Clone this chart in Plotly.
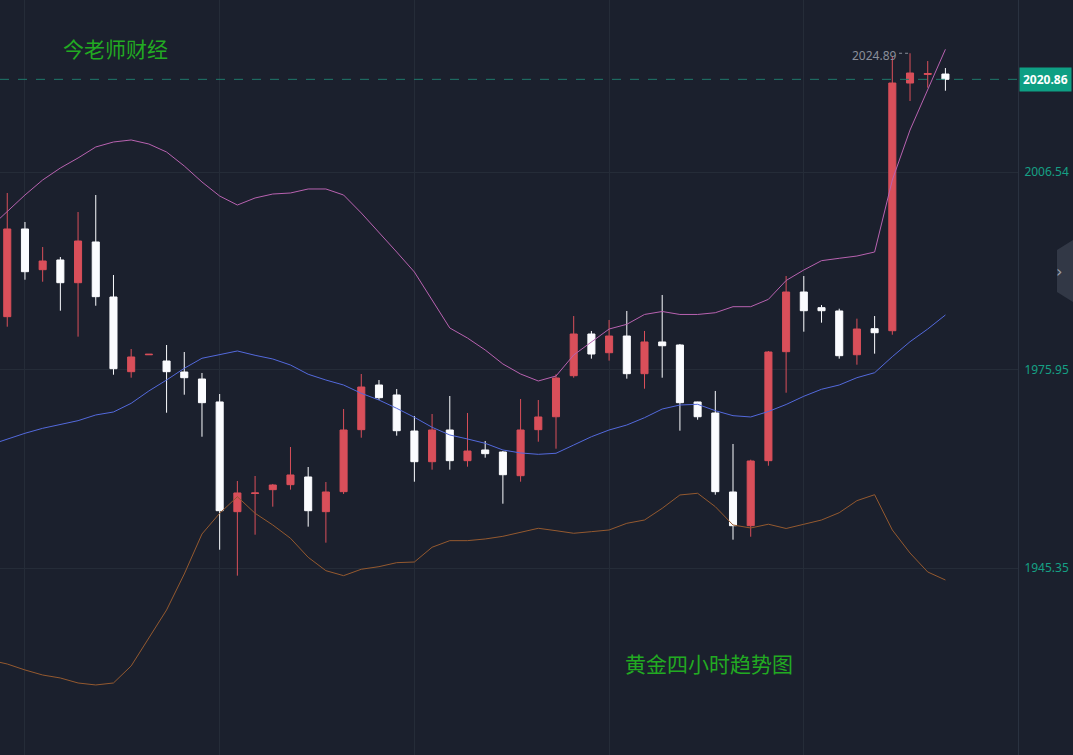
import plotly.graph_objects as go

# ---- data ----
idx = list(range(54))
opens = [1984.19, 1997.74, 1991.45, 1992.95, 1989.44, 1995.73, 1987.23, 1975.69, 1978.30, 1977.34,
         1975.64, 1974.56, 1971.01, 1954.06, 1956.87, 1957.46, 1958.23, 1959.42, 1954.06, 1957.15,
         1966.73, 1973.63, 1972.09, 1966.52, 1961.78, 1966.68, 1961.94, 1963.59, 1963.28, 1959.62,
         1966.73, 1968.73, 1975.07, 1981.51, 1978.62, 1981.20, 1975.38, 1980.28, 1979.81, 1971.01,
         1969.31, 1957.10, 1951.89, 1961.94, 1978.78, 1988.00, 1985.58, 1985.07, 1978.31, 1982.33,
         1982.02, 2020.29, 2021.62, 2021.68]
highs = [2003.30, 1998.82, 1994.95, 1993.41, 2000.36, 2002.99, 1990.63, 1979.19, 1978.40, 1979.81,
         1978.73, 1975.49, 1972.24, 1958.80, 1959.57, 1958.34, 1964.05, 1960.96, 1958.64, 1969.92,
         1975.33, 1974.40, 1973.01, 1968.84, 1969.15, 1971.93, 1969.31, 1964.98, 1963.43, 1971.47,
         1971.31, 1975.29, 1984.29, 1981.98, 1983.68, 1985.07, 1981.98, 1987.54, 1979.97, 1971.05,
         1972.71, 1964.52, 1962.09, 1978.89, 1990.47, 1990.47, 1985.99, 1985.42, 1983.88, 1984.29,
         2024.39, 2024.89, 2023.69, 2022.61]
lows = [1982.64, 1989.90, 1989.59, 1985.11, 1981.10, 1985.88, 1975.22, 1974.76, 1978.28, 1969.35,
        1972.13, 1965.64, 1948.18, 1944.17, 1950.50, 1954.83, 1957.46, 1951.74, 1949.27, 1956.79,
        1965.49, 1971.31, 1965.80, 1958.69, 1960.55, 1960.55, 1961.01, 1962.40, 1955.29, 1958.69,
        1964.87, 1963.79, 1974.76, 1977.70, 1977.39, 1974.61, 1973.06, 1974.76, 1966.57, 1968.27,
        1956.68, 1949.73, 1950.19, 1961.16, 1972.44, 1981.87, 1983.26, 1977.70, 1976.77, 1978.47,
        1981.40, 2017.51, 2019.57, 2019.10]
closes = [1997.74, 1991.14, 1992.79, 1989.44, 1995.88, 1987.28, 1976.15, 1977.96, 1978.38, 1975.69,
          1974.76, 1970.90, 1954.21, 1956.95, 1956.95, 1958.18, 1959.73, 1954.21, 1957.10, 1966.68,
          1973.32, 1971.67, 1966.57, 1961.78, 1966.68, 1961.94, 1963.43, 1963.02, 1959.77, 1966.68,
          1968.69, 1974.71, 1981.51, 1978.42, 1981.20, 1975.38, 1980.28, 1979.70, 1970.90, 1968.73,
          1957.15, 1951.89, 1961.89, 1978.73, 1988.00, 1985.11, 1985.11, 1978.16, 1982.28, 1981.71,
          2020.29, 2021.84, 2021.76, 2020.86]

# Bollinger bands (one extra point before the first visible candle, off the left edge)
band_idx = list(range(-1, 54))
boll_upper = [1997.89,
              2000.52, 2002.99, 2005.31, 2007.16, 2008.71, 2010.41, 2011.18, 2011.49, 2010.87, 2009.63,
              2007.47, 2005.00, 2002.83, 2001.44, 2002.53, 2003.14, 2003.30, 2003.92, 2003.92, 2002.99,
              2000.21, 1997.27, 1994.18, 1991.09, 1986.77, 1982.44, 1980.89, 1979.04, 1976.88, 1975.33,
              1974.25, 1975.02, 1978.27, 1980.32, 1982.28, 1983.01, 1984.53, 1984.99, 1984.53, 1984.53,
              1984.80, 1985.73, 1985.73, 1986.87, 1989.78, 1991.40, 1992.84, 1993.21, 1993.56, 1994.18,
              2005.31, 2013.03, 2019.21, 2025.50]
boll_mid = [1964.36,
            1965.29, 1966.17, 1966.94, 1967.56, 1968.12, 1969.00, 1969.46, 1970.80, 1972.71, 1974.40,
            1976.21, 1977.76, 1978.27, 1978.89, 1978.22, 1977.65, 1976.72, 1975.29, 1974.40, 1973.63,
            1972.35, 1971.31, 1970.03, 1968.64, 1967.10, 1965.91, 1965.29, 1964.62, 1963.59, 1963.13,
            1962.92, 1963.08, 1964.36, 1965.64, 1966.68, 1967.45, 1968.58, 1969.92, 1970.54, 1970.65,
            1969.66, 1968.89, 1968.69, 1969.54, 1970.62, 1971.89, 1972.97, 1973.63, 1974.76, 1975.53,
            1978.01, 1980.32, 1982.28, 1984.45]
boll_lower = [1931.14,
              1930.52, 1929.60, 1928.82, 1928.36, 1927.59, 1927.28, 1927.59, 1930.22, 1934.54, 1938.87,
              1944.43, 1950.61, 1953.81, 1956.37, 1953.81, 1952.00, 1949.95, 1947.01, 1944.94, 1944.17,
              1945.16, 1945.56, 1946.18, 1946.28, 1948.56, 1949.58, 1949.58, 1949.84, 1950.25, 1950.92,
              1951.49, 1951.12, 1950.72, 1950.97, 1951.23, 1952.26, 1952.77, 1954.58, 1956.64, 1956.90,
              1954.83, 1952.00, 1951.54, 1952.12, 1951.46, 1952.11, 1952.77, 1953.90, 1955.76, 1956.68,
              1951.23, 1947.67, 1944.74, 1943.50]

tick_vals = [1945.35, 1975.95, 2006.54]
tick_text = ["1945.35", "1975.95", "2006.54"]
last_price = 2020.86
high_price = 2024.89
high_index = 51

BG = "#1b202d"
GRID = "#252c38"
RED = "#d94f5a"
WHITE = "#fbfcff"
TEAL = "#16a085"

fig = go.Figure()

fig.add_trace(go.Scatter(x=band_idx, y=boll_upper, mode="lines",
                         line=dict(color="#b862b0", width=1), hoverinfo="skip"))
fig.add_trace(go.Scatter(x=band_idx, y=boll_mid, mode="lines",
                         line=dict(color="#5369dc", width=1), hoverinfo="skip"))
fig.add_trace(go.Scatter(x=band_idx, y=boll_lower, mode="lines",
                         line=dict(color="#94592f", width=1), hoverinfo="skip"))

fig.add_trace(go.Candlestick(
    x=idx, open=opens, high=highs, low=lows, close=closes,
    increasing=dict(line=dict(color=RED, width=1), fillcolor=RED),
    decreasing=dict(line=dict(color=WHITE, width=1), fillcolor=WHITE),
    whiskerwidth=0, hoverinfo="skip"))

fig.update_layout(
    width=1073, height=755,
    margin=dict(l=0, r=55, t=0, b=0),
    paper_bgcolor=BG, plot_bgcolor=BG,
    showlegend=False,
    boxgap=0.43,
    xaxis=dict(range=[-0.41, 57.1], showticklabels=False, tickvals=[1, 12, 23, 34, 45],
               showgrid=True, gridcolor=GRID, gridwidth=1, zeroline=False,
               rangeslider=dict(visible=False), fixedrange=True),
    yaxis=dict(range=[1916.46, 2033.12], side="right", tickvals=tick_vals, ticktext=tick_text,
               showgrid=True, gridcolor=GRID, gridwidth=1, zeroline=False,
               tickfont=dict(color=TEAL, size=12, family="Noto Sans"),
               ticks="", ticklabelstandoff=3,
               showline=True, linecolor="#2a3240", linewidth=1, fixedrange=True),
)

# last price dashed line
fig.add_shape(type="line", xref="paper", x0=0, x1=1, yref="y", y0=last_price, y1=last_price,
              line=dict(color="#1f7a6c", width=1, dash="dash"))
# last price label
fig.add_annotation(xref="paper", x=1.0, xanchor="left", yref="y", y=last_price, yanchor="middle",
                   text="<b>%.2f</b>" % last_price, showarrow=False, xshift=1,
                   font=dict(color="#ffffff", size=12, family="Noto Sans"),
                   bgcolor="#0e9f84", borderpad=3)
# bottom cut-off tick label
fig.add_annotation(xref="paper", x=1.0, xanchor="left", yref="paper", y=-0.012, yanchor="middle",
                   text="1914.76", showarrow=False, xshift=3,
                   font=dict(color=TEAL, size=12, family="Noto Sans"))
# high marker
fig.add_shape(type="line", xref="x", x0=high_index - 0.62, x1=high_index, yref="y",
              y0=high_price, y1=high_price, line=dict(color="#8a8f9a", width=1, dash="dot"))
fig.add_annotation(xref="x", x=high_index - 0.64, xanchor="right", yref="y", y=high_price,
                   yanchor="middle", text="%.2f" % high_price, showarrow=False, yshift=-2,
                   font=dict(color="#8a8f9a", size=12, family="Noto Sans"))

# titles
fig.add_annotation(xref="paper", x=115 / 1018, yref="paper", y=1 - 48 / 755, text="今老师财经",
                   showarrow=False, xanchor="center", yanchor="middle",
                   font=dict(color="#22aa22", size=21, family="Noto Sans CJK SC"))
fig.add_annotation(xref="paper", x=709 / 1018, yref="paper", y=1 - 663 / 755, text="黄金四小时趋势图",
                   showarrow=False, xanchor="center", yanchor="middle",
                   font=dict(color="#22aa22", size=21, family="Noto Sans CJK SC"))

# side tab
fig.add_shape(type="path", xref="paper", yref="paper",
              path="M %f %f L %f %f L %f %f L %f %f Z" % (
                  1057 / 1018, 1 - 250 / 755, 1073 / 1018, 1 - 240 / 755,
                  1073 / 1018, 1 - 302 / 755, 1057 / 1018, 1 - 292 / 755),
              fillcolor="#323846", line=dict(width=0), layer="above")
fig.add_annotation(xref="paper", x=1064 / 1018, yref="paper", y=1 - 271 / 755, text="›",
                   showarrow=False, font=dict(color="#9aa0aa", size=16, family="DejaVu Sans"))

fig.write_html("out.html")
